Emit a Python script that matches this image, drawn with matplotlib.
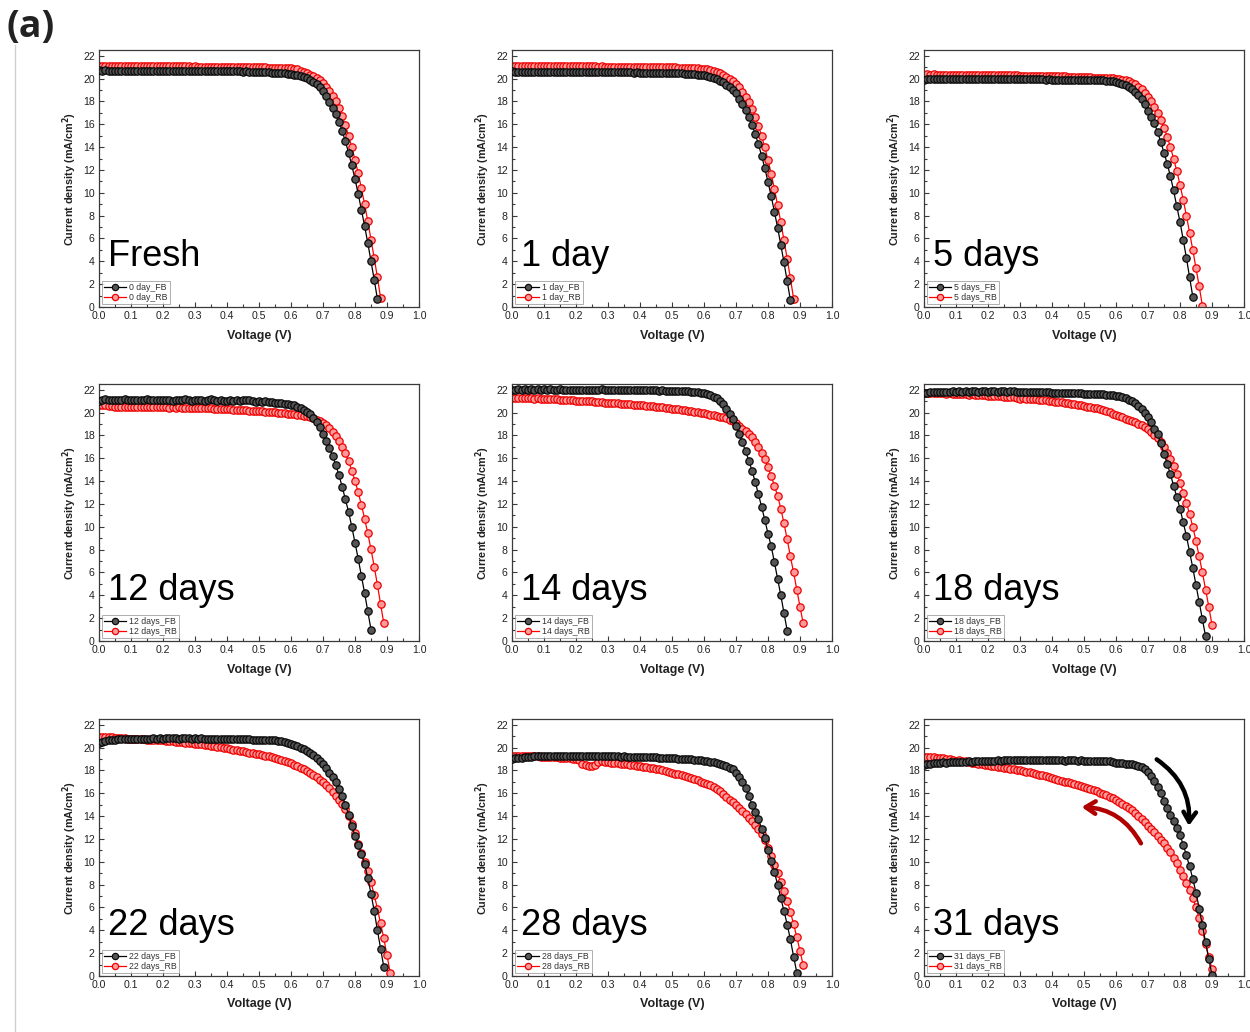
import matplotlib
matplotlib.use("Agg")
import matplotlib.pyplot as plt
from matplotlib.lines import Line2D
from matplotlib.ticker import MultipleLocator

plt.rcParams['font.family'] = ['Liberation Sans', 'DejaVu Sans']

# shared voltage sweep (V)
voltage = [0.00, 0.01, 0.02, 0.03, 0.04, 0.05, 0.06, 0.07, 0.08, 0.09,
           0.10, 0.11, 0.12, 0.13, 0.14, 0.15, 0.16, 0.17, 0.18, 0.19,
           0.20, 0.21, 0.22, 0.23, 0.24, 0.25, 0.26, 0.27, 0.28, 0.29,
           0.30, 0.31, 0.32, 0.33, 0.34, 0.35, 0.36, 0.37, 0.38, 0.39,
           0.40, 0.41, 0.42, 0.43, 0.44, 0.45, 0.46, 0.47, 0.48, 0.49,
           0.50, 0.51, 0.52, 0.53, 0.54, 0.55, 0.56, 0.57, 0.58, 0.59,
           0.60, 0.61, 0.62, 0.63, 0.64, 0.65, 0.66, 0.67, 0.68, 0.69,
           0.70, 0.71, 0.72, 0.73, 0.74, 0.75, 0.76, 0.77, 0.78, 0.79,
           0.80, 0.81, 0.82, 0.83, 0.84, 0.85, 0.86, 0.87, 0.88, 0.89,
           0.90, 0.91, 0.92]

panel_titles = ["Fresh", "1 day", "5 days", "12 days", "14 days", "18 days",
                "22 days", "28 days", "31 days"]
legend_prefix = ["0 day", "1 day", "5 days", "12 days", "14 days", "18 days",
                 "22 days", "28 days", "31 days"]

# current density (mA/cm2), forward bias (FB) and reverse bias (RB) scans
day0_fb = [20.72, 20.70, 20.71, 20.69, 20.70, 20.70, 20.68, 20.70, 20.69, 20.70,
           20.69, 20.70, 20.68, 20.69, 20.70, 20.68, 20.69, 20.68, 20.69, 20.68,
           20.68, 20.67, 20.68, 20.69, 20.67, 20.68, 20.67, 20.68, 20.66, 20.67,
           20.67, 20.66, 20.67, 20.66, 20.65, 20.66, 20.65, 20.64, 20.65, 20.64,
           20.64, 20.63, 20.62, 20.63, 20.62, 20.61, 20.62, 20.60, 20.60, 20.59,
           20.58, 20.57, 20.56, 20.55, 20.53, 20.52, 20.50, 20.48, 20.46, 20.43,
           20.40, 20.35, 20.30, 20.23, 20.15, 20.05, 19.90, 19.72, 19.50, 19.25,
           18.90, 18.45, 17.95, 17.45, 16.90, 16.20, 15.40, 14.50, 13.50, 12.40,
           11.20, 9.90, 8.50, 7.10, 5.60, 4.00, 2.40, 0.70]
day0_rb = [21.12, 21.10, 21.11, 21.10, 21.11, 21.10, 21.09, 21.10, 21.10, 21.09,
           21.10, 21.09, 21.09, 21.10, 21.08, 21.09, 21.08, 21.09, 21.08, 21.08,
           21.08, 21.07, 21.08, 21.07, 21.07, 21.06, 21.07, 21.06, 21.06, 21.05,
           21.06, 21.05, 21.05, 21.04, 21.05, 21.04, 21.04, 21.03, 21.04, 21.03,
           21.03, 21.02, 21.02, 21.01, 21.02, 21.01, 21.00, 21.00, 20.99, 20.99,
           20.98, 20.98, 20.97, 20.96, 20.96, 20.95, 20.94, 20.93, 20.92, 20.91,
           20.90, 20.85, 20.80, 20.70, 20.60, 20.50, 20.35, 20.20, 20.05, 19.85,
           19.60, 19.30, 18.95, 18.50, 18.00, 17.40, 16.70, 15.90, 15.00, 14.00,
           12.90, 11.70, 10.40, 9.00, 7.50, 5.90, 4.30, 2.60, 0.80]

day1_fb = [20.62, 20.60, 20.61, 20.60, 20.61, 20.60, 20.59, 20.60, 20.60, 20.59,
           20.60, 20.59, 20.60, 20.59, 20.58, 20.59, 20.58, 20.59, 20.58, 20.58,
           20.58, 20.57, 20.58, 20.57, 20.57, 20.58, 20.56, 20.57, 20.56, 20.57,
           20.56, 20.56, 20.55, 20.56, 20.55, 20.55, 20.54, 20.55, 20.53, 20.54,
           20.53, 20.53, 20.52, 20.53, 20.52, 20.51, 20.51, 20.50, 20.50, 20.49,
           20.48, 20.47, 20.46, 20.45, 20.43, 20.42, 20.40, 20.38, 20.35, 20.32,
           20.28, 20.22, 20.15, 20.06, 19.95, 19.82, 19.66, 19.47, 19.25, 19.00,
           18.70, 18.25, 17.75, 17.25, 16.65, 15.95, 15.15, 14.25, 13.25, 12.15,
           10.95, 9.70, 8.35, 6.95, 5.45, 3.90, 2.25, 0.60]
day1_rb = [21.10, 21.12, 21.11, 21.10, 21.11, 21.10, 21.10, 21.09, 21.10, 21.09,
           21.09, 21.10, 21.09, 21.08, 21.09, 21.08, 21.08, 21.09, 21.07, 21.08,
           21.07, 21.08, 21.07, 21.06, 21.07, 21.06, 21.06, 21.05, 21.06, 21.05,
           21.05, 21.04, 21.05, 21.04, 21.04, 21.03, 21.04, 21.03, 21.02, 21.03,
           21.02, 21.02, 21.01, 21.01, 21.00, 21.01, 21.00, 20.99, 20.99, 20.98,
           20.98, 20.97, 20.96, 20.96, 20.95, 20.94, 20.93, 20.92, 20.90, 20.88,
           20.86, 20.82, 20.76, 20.68, 20.58, 20.46, 20.32, 20.16, 19.98, 19.78,
           19.52, 19.22, 18.86, 18.42, 17.92, 17.34, 16.66, 15.88, 14.98, 13.98,
           12.88, 11.66, 10.34, 8.92, 7.42, 5.84, 4.22, 2.52, 0.74]

day5_fb = [19.90, 19.93, 19.95, 19.97, 19.98, 19.98, 19.99, 19.98, 19.99, 19.98,
           19.98, 19.99, 19.98, 19.97, 19.98, 19.97, 19.98, 19.97, 19.97, 19.96,
           19.97, 19.96, 19.96, 19.95, 19.96, 19.95, 19.95, 19.94, 19.95, 19.94,
           19.94, 19.93, 19.94, 19.93, 19.93, 19.92, 19.93, 19.92, 19.91, 19.92,
           19.91, 19.91, 19.90, 19.90, 19.89, 19.90, 19.89, 19.88, 19.88, 19.87,
           19.87, 19.86, 19.86, 19.85, 19.84, 19.84, 19.83, 19.82, 19.80, 19.78,
           19.72, 19.65, 19.55, 19.45, 19.30, 19.10, 18.85, 18.55, 18.20, 17.75,
           17.20, 16.65, 16.10, 15.30, 14.45, 13.50, 12.55, 11.45, 10.20, 8.80,
           7.45, 5.90, 4.30, 2.60, 0.90]
day5_rb = [20.35, 20.36, 20.35, 20.36, 20.35, 20.34, 20.35, 20.34, 20.35, 20.34,
           20.34, 20.33, 20.34, 20.33, 20.32, 20.33, 20.32, 20.31, 20.32, 20.31,
           20.30, 20.31, 20.30, 20.29, 20.30, 20.28, 20.29, 20.28, 20.27, 20.27,
           20.26, 20.26, 20.25, 20.25, 20.24, 20.24, 20.23, 20.22, 20.22, 20.21,
           20.20, 20.20, 20.19, 20.18, 20.18, 20.17, 20.16, 20.15, 20.14, 20.13,
           20.12, 20.11, 20.10, 20.09, 20.08, 20.06, 20.05, 20.04, 20.02, 20.01,
           20.00, 19.95, 19.90, 19.85, 19.75, 19.65, 19.50, 19.30, 19.05, 18.75,
           18.40, 18.00, 17.50, 17.00, 16.40, 15.70, 14.90, 14.00, 13.00, 11.90,
           10.70, 9.40, 8.00, 6.50, 5.00, 3.40, 1.80, 0.10]

day12_fb = [21.05, 21.10, 21.15, 21.10, 21.12, 21.08, 21.13, 21.10, 21.15, 21.12,
            21.10, 21.14, 21.08, 21.12, 21.10, 21.15, 21.09, 21.12, 21.10, 21.13,
            21.08, 21.12, 21.10, 21.05, 21.10, 21.13, 21.08, 21.20, 21.12, 21.05,
            21.10, 21.08, 21.12, 21.05, 21.10, 21.15, 21.08, 21.05, 21.10, 21.02,
            21.05, 21.08, 21.03, 21.10, 21.05, 21.12, 21.10, 21.08, 21.00, 20.95,
            21.00, 20.92, 20.98, 20.90, 20.95, 20.88, 20.85, 20.82, 20.78, 20.75,
            20.70, 20.62, 20.52, 20.40, 20.25, 20.08, 19.85, 19.55, 19.20, 18.70,
            18.10, 17.50, 16.90, 16.20, 15.40, 14.50, 13.50, 12.40, 11.30, 10.00,
            8.60, 7.20, 5.70, 4.20, 2.60, 1.00]
day12_rb = [20.70, 20.68, 20.65, 20.60, 20.55, 20.45, 20.52, 20.50, 20.48, 20.52,
            20.50, 20.45, 20.48, 20.52, 20.50, 20.46, 20.49, 20.47, 20.50, 20.46,
            20.45, 20.48, 20.44, 20.46, 20.43, 20.45, 20.42, 20.44, 20.41, 20.42,
            20.40, 20.41, 20.38, 20.40, 20.36, 20.37, 20.34, 20.35, 20.32, 20.30,
            20.28, 20.27, 20.25, 20.24, 20.22, 20.20, 20.19, 20.17, 20.15, 20.13,
            20.12, 20.10, 20.08, 20.06, 20.04, 20.02, 20.00, 19.97, 19.94, 19.90,
            19.87, 19.84, 19.80, 19.76, 19.72, 19.66, 19.58, 19.48, 19.38, 19.24,
            19.08, 18.88, 18.62, 18.32, 17.96, 17.52, 17.02, 16.42, 15.72, 14.92,
            14.02, 13.02, 11.92, 10.72, 9.42, 8.02, 6.52, 4.92, 3.22, 1.55]

day14_fb = [21.95, 22.00, 22.02, 22.00, 22.03, 22.01, 22.02, 22.00, 22.03, 22.01,
            22.02, 22.00, 22.02, 22.01, 22.00, 22.02, 22.00, 22.01, 21.99, 22.01,
            22.00, 21.99, 22.01, 21.99, 22.00, 21.98, 22.00, 21.99, 22.02, 22.00,
            21.99, 21.98, 22.00, 21.98, 21.99, 21.97, 21.98, 21.97, 21.98, 21.96,
            21.97, 21.95, 21.96, 21.95, 21.94, 21.95, 21.93, 21.94, 21.92, 21.93,
            21.92, 21.90, 21.90, 21.88, 21.87, 21.85, 21.83, 21.80, 21.77, 21.74,
            21.70, 21.62, 21.52, 21.40, 21.25, 21.05, 20.75, 20.35, 19.90, 19.40,
            18.80, 18.15, 17.40, 16.60, 15.80, 14.90, 13.95, 12.85, 11.75, 10.60,
            9.40, 8.30, 6.90, 5.45, 4.00, 2.45, 0.90]
day14_rb = [21.30, 21.28, 21.29, 21.26, 21.27, 21.25, 21.26, 21.23, 21.24, 21.21,
            21.20, 21.21, 21.18, 21.17, 21.16, 21.12, 21.14, 21.10, 21.09, 21.07,
            21.05, 21.04, 21.02, 21.01, 20.99, 20.97, 20.96, 20.93, 20.91, 20.88,
            20.86, 20.84, 20.82, 20.80, 20.78, 20.76, 20.74, 20.72, 20.69, 20.67,
            20.65, 20.62, 20.60, 20.58, 20.55, 20.52, 20.49, 20.46, 20.42, 20.39,
            20.35, 20.32, 20.28, 20.25, 20.21, 20.17, 20.13, 20.08, 20.03, 19.97,
            19.92, 19.87, 19.82, 19.77, 19.72, 19.65, 19.57, 19.48, 19.38, 19.24,
            19.05, 18.82, 18.60, 18.40, 18.15, 17.85, 17.45, 17.00, 16.50, 15.90,
            15.20, 14.45, 13.60, 12.70, 11.60, 10.30, 8.90, 7.40, 6.00, 4.50,
            3.00, 1.55]

day18_fb = [21.70, 21.75, 21.80, 21.82, 21.80, 21.83, 21.81, 21.84, 21.82, 21.85,
            21.83, 21.85, 21.84, 21.86, 21.84, 21.86, 21.85, 21.84, 21.86, 21.85,
            21.84, 21.86, 21.85, 21.84, 21.85, 21.86, 21.84, 21.85, 21.86, 21.83,
            21.84, 21.82, 21.83, 21.80, 21.81, 21.79, 21.80, 21.78, 21.77, 21.76,
            21.75, 21.74, 21.72, 21.73, 21.71, 21.70, 21.70, 21.68, 21.69, 21.67,
            21.66, 21.65, 21.65, 21.63, 21.62, 21.60, 21.60, 21.57, 21.55, 21.52,
            21.48, 21.42, 21.35, 21.25, 21.12, 20.98, 20.80, 20.60, 20.35, 20.00,
            19.60, 19.15, 18.60, 18.10, 17.30, 16.40, 15.50, 14.60, 13.60, 12.60,
            11.60, 10.40, 9.20, 7.80, 6.40, 4.90, 3.40, 1.90, 0.40]
day18_rb = [21.72, 21.70, 21.71, 21.68, 21.70, 21.67, 21.68, 21.66, 21.67, 21.64,
            21.62, 21.63, 21.60, 21.61, 21.58, 21.59, 21.56, 21.55, 21.53, 21.50,
            21.47, 21.48, 21.45, 21.44, 21.41, 21.40, 21.37, 21.35, 21.33, 21.30,
            21.22, 21.25, 21.22, 21.20, 21.17, 21.15, 21.12, 21.10, 21.07, 21.03,
            20.98, 20.96, 20.93, 20.90, 20.86, 20.82, 20.78, 20.73, 20.68, 20.63,
            20.55, 20.52, 20.47, 20.42, 20.37, 20.30, 20.22, 20.12, 20.02, 19.90,
            19.78, 19.68, 19.57, 19.45, 19.35, 19.25, 19.13, 19.02, 18.90, 18.75,
            18.55, 18.32, 18.05, 17.75, 17.40, 17.00, 16.50, 15.95, 15.35, 14.65,
            13.85, 13.00, 12.10, 11.10, 10.00, 8.75, 7.40, 6.00, 4.50, 3.00,
            1.40]

day22_fb = [20.40, 20.50, 20.58, 20.65, 20.68, 20.70, 20.72, 20.74, 20.75, 20.76,
            20.76, 20.77, 20.78, 20.77, 20.78, 20.79, 20.78, 20.80, 20.79, 20.80,
            20.79, 20.80, 20.80, 20.81, 20.80, 20.79, 20.80, 20.81, 20.80, 20.79,
            20.80, 20.79, 20.80, 20.78, 20.79, 20.78, 20.77, 20.78, 20.76, 20.77,
            20.76, 20.75, 20.76, 20.74, 20.73, 20.74, 20.72, 20.71, 20.70, 20.70,
            20.68, 20.68, 20.66, 20.65, 20.63, 20.62, 20.58, 20.54, 20.48, 20.40,
            20.30, 20.22, 20.12, 20.00, 19.87, 19.72, 19.55, 19.33, 19.10, 18.85,
            18.55, 18.20, 17.80, 17.40, 16.95, 16.40, 15.80, 15.00, 14.10, 13.10,
            12.30, 11.50, 10.70, 9.80, 8.60, 7.20, 5.70, 4.00, 2.40, 0.80]
day22_rb = [20.90, 20.92, 20.95, 20.93, 20.90, 20.88, 20.85, 20.82, 20.80, 20.78,
            20.76, 20.74, 20.75, 20.72, 20.72, 20.70, 20.70, 20.68, 20.67, 20.65,
            20.62, 20.60, 20.58, 20.56, 20.53, 20.50, 20.47, 20.43, 20.40, 20.37,
            20.33, 20.30, 20.27, 20.23, 20.19, 20.15, 20.10, 20.06, 20.01, 19.96,
            19.92, 19.87, 19.82, 19.77, 19.72, 19.66, 19.61, 19.56, 19.50, 19.45,
            19.40, 19.34, 19.28, 19.22, 19.16, 19.08, 19.00, 18.92, 18.83, 18.73,
            18.62, 18.50, 18.38, 18.24, 18.10, 17.95, 17.78, 17.60, 17.40, 17.18,
            16.95, 16.70, 16.42, 16.12, 15.80, 15.45, 15.05, 14.60, 14.05, 13.35,
            12.50, 11.60, 10.80, 10.00, 9.15, 8.20, 7.10, 5.90, 4.60, 3.30,
            1.80, 0.30]

day28_fb = [19.00, 19.05, 19.08, 19.12, 19.15, 19.18, 19.20, 19.22, 19.24, 19.25,
            19.26, 19.27, 19.28, 19.27, 19.28, 19.29, 19.28, 19.30, 19.29, 19.28,
            19.29, 19.28, 19.27, 19.28, 19.27, 19.26, 19.27, 19.25, 19.26, 19.24,
            19.25, 19.23, 19.24, 19.22, 19.21, 19.22, 19.20, 19.21, 19.19, 19.18,
            19.18, 19.16, 19.17, 19.15, 19.14, 19.13, 19.12, 19.10, 19.09, 19.08,
            19.06, 19.05, 19.04, 19.02, 19.00, 18.99, 18.97, 18.94, 18.91, 18.88,
            18.85, 18.80, 18.75, 18.70, 18.62, 18.55, 18.45, 18.35, 18.20, 18.10,
            17.80, 17.40, 17.00, 16.50, 15.80, 15.00, 14.40, 13.75, 12.90, 12.10,
            11.00, 10.10, 9.10, 8.00, 6.80, 5.70, 4.50, 3.20, 1.70, 0.30]
day28_rb = [19.30, 19.28, 19.30, 19.27, 19.28, 19.25, 19.26, 19.23, 19.24, 19.21,
            19.20, 19.18, 19.17, 19.15, 19.14, 19.12, 19.10, 19.08, 19.06, 19.03,
            19.00, 18.95, 18.60, 18.45, 18.40, 18.40, 18.45, 18.70, 18.80, 18.75,
            18.72, 18.68, 18.65, 18.62, 18.58, 18.55, 18.52, 18.48, 18.45, 18.40,
            18.36, 18.32, 18.28, 18.24, 18.20, 18.15, 18.08, 18.02, 17.96, 17.88,
            17.80, 17.72, 17.65, 17.57, 17.48, 17.40, 17.32, 17.22, 17.12, 17.02,
            16.92, 16.80, 16.68, 16.55, 16.40, 16.20, 15.95, 15.70, 15.45, 15.20,
            14.95, 14.70, 14.45, 14.15, 13.85, 13.55, 13.20, 12.85, 12.45, 11.90,
            11.20, 10.50, 9.70, 9.00, 8.20, 7.45, 6.60, 5.60, 4.55, 3.40,
            2.20, 0.95]

day31_fb = [18.50, 18.55, 18.60, 18.62, 18.65, 18.68, 18.70, 18.66, 18.72, 18.70,
            18.74, 18.72, 18.76, 18.75, 18.78, 18.76, 18.80, 18.82, 18.80, 18.84,
            18.82, 18.86, 18.85, 18.88, 18.86, 18.90, 18.88, 18.92, 18.90, 18.88,
            18.92, 18.90, 18.88, 18.91, 18.89, 18.92, 18.90, 18.88, 18.95, 18.90,
            18.88, 18.90, 18.87, 18.89, 18.86, 18.88, 18.92, 18.87, 18.85, 18.88,
            18.86, 18.84, 18.86, 18.83, 18.85, 18.82, 18.80, 18.82, 18.78, 18.75,
            18.68, 18.62, 18.62, 18.58, 18.55, 18.52, 18.50, 18.42, 18.30, 18.12,
            17.90, 17.50, 17.05, 16.55, 16.00, 15.30, 14.70, 14.10, 13.55, 13.00,
            12.35, 11.50, 10.55, 9.60, 8.50, 7.30, 5.90, 4.45, 2.95, 1.45,
            0.10]
day31_rb = [19.20, 19.18, 19.16, 19.14, 19.12, 19.05, 19.08, 19.02, 19.00, 18.94,
            18.85, 18.88, 18.82, 18.78, 18.70, 18.65, 18.66, 18.60, 18.55, 18.50,
            18.45, 18.42, 18.38, 18.33, 18.30, 18.25, 18.20, 18.15, 18.10, 18.05,
            18.00, 17.95, 17.88, 17.84, 17.78, 17.70, 17.64, 17.57, 17.48, 17.40,
            17.30, 17.25, 17.18, 17.10, 17.02, 16.95, 16.88, 16.80, 16.72, 16.64,
            16.55, 16.48, 16.40, 16.30, 16.18, 16.05, 15.95, 15.82, 15.68, 15.55,
            15.40, 15.25, 15.10, 14.92, 14.72, 14.50, 14.25, 14.00, 13.72, 13.45,
            13.15, 12.88, 12.60, 12.30, 11.95, 11.62, 11.25, 10.85, 10.35, 9.85,
            9.30, 8.75, 8.15, 7.50, 6.80, 6.00, 5.05, 3.95, 2.80, 1.70,
            0.60]

fb_series = [day0_fb, day1_fb, day5_fb, day12_fb, day14_fb, day18_fb,
             day22_fb, day28_fb, day31_fb]
rb_series = [day0_rb, day1_rb, day5_rb, day12_rb, day14_rb, day18_rb,
             day22_rb, day28_rb, day31_rb]

W, H = 1250, 1032
fig = plt.figure(figsize=(W / 100, H / 100), dpi=100)

col_left = [99, 512, 924]
row_bottom = [307, 641, 976]
ax_w, ax_h = 320, 257

spine_col = '#3a3a3a'

for i in range(9):
    r, c = divmod(i, 3)
    ax = fig.add_axes([col_left[c] / W, 1 - row_bottom[r] / H, ax_w / W, ax_h / H])
    fb = fb_series[i]
    rb = rb_series[i]
    ax.plot(voltage[:len(fb)], fb, color='black', lw=0.9, marker='o', ms=5.3,
            mfc='#555555', mec='#0a0a0a', mew=0.9, label=legend_prefix[i] + "_FB",
            zorder=3)
    ax.plot(voltage[:len(rb)], rb, color='#ff0000', lw=0.9, marker='o', ms=5.3,
            mfc='#ff9a9a', mec='#ee0000', mew=0.9, label=legend_prefix[i] + "_RB",
            zorder=2)
    ax.set_xlim(0, 1.0)
    ax.set_ylim(0, 22.5)
    ax.xaxis.set_major_locator(MultipleLocator(0.1))
    ax.xaxis.set_minor_locator(MultipleLocator(0.05))
    ax.yaxis.set_major_locator(MultipleLocator(2))
    ax.yaxis.set_minor_locator(MultipleLocator(1))
    ax.set_xticks([0.0, 0.1, 0.2, 0.3, 0.4, 0.5, 0.6, 0.7, 0.8, 0.9, 1.0])
    ax.set_xticklabels(["0.0", "0.1", "0.2", "0.3", "0.4", "0.5", "0.6", "0.7",
                        "0.8", "0.9", "1.0"])
    ax.tick_params(which='both', direction='in', top=False, right=False,
                   colors=spine_col, labelcolor='#222222', width=0.8)
    ax.tick_params(which='major', length=3.5, labelsize=7.6, pad=3)
    ax.tick_params(which='minor', length=2)
    for s in ax.spines.values():
        s.set_color(spine_col)
        s.set_linewidth(0.9)
    ax.set_xlabel("Voltage (V)", fontsize=9, fontweight='bold', labelpad=6,
                  color='#222222')
    ax.set_ylabel("Current density (mA/cm$^\\mathbf{2}$)", fontsize=7.8,
                  fontweight='bold', labelpad=3, color='#222222')
    ax.text(0.028, 0.158, panel_titles[i], transform=ax.transAxes, fontsize=26,
            ha='left', va='baseline', color='black')
    leg = ax.legend(loc='lower left', bbox_to_anchor=(0.008, 0.01), fontsize=6.3,
                    frameon=True, fancybox=False, edgecolor='#8a8a8a',
                    handlelength=2.6, handletextpad=0.3, labelspacing=0.15,
                    borderpad=0.25, borderaxespad=0.0, markerscale=0.85)
    leg.get_frame().set_linewidth(0.6)
    for t in leg.get_texts():
        t.set_color('#333333')

    if i == 8:
        ax.annotate('', xy=(0.827, 12.9), xytext=(0.72, 19.1),
                    arrowprops=dict(arrowstyle='->,head_length=0.7,head_width=0.45',
                                    lw=3.2, color='black',
                                    connectionstyle='arc3,rad=-0.3'))
        ax.annotate('', xy=(0.484, 14.8), xytext=(0.682, 11.4),
                    arrowprops=dict(arrowstyle='->,head_length=0.7,head_width=0.45',
                                    lw=3.2, color='#b00000',
                                    connectionstyle='arc3,rad=0.3'))

fig.text(7 / W, 1 - 8 / H, "(a)", fontsize=27, fontweight='bold',
         family=['Open Sans', 'DejaVu Sans'], ha='left', va='top', color='#222222')
fig.add_artist(Line2D([15 / W, 15 / W], [0, 1 - 45 / H], transform=fig.transFigure,
                      color='#cfcfcf', lw=1.0))

fig.savefig("out.png", dpi=100, facecolor='white')
